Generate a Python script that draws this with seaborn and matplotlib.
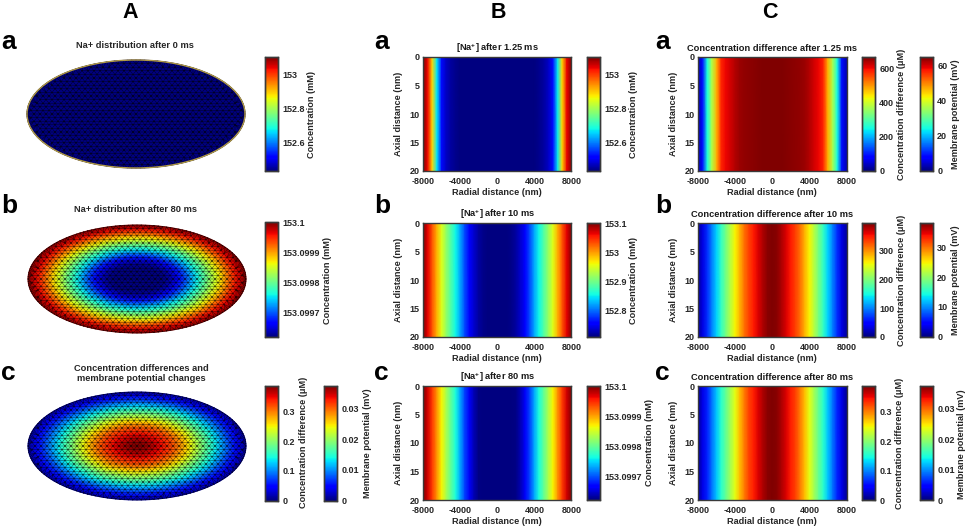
import numpy as np
import pandas as pd
import seaborn as sns
import matplotlib.pyplot as plt
from matplotlib.cm import ScalarMappable
from matplotlib.colors import Normalize
from matplotlib.patches import Ellipse
from matplotlib.tri import Triangulation

# Perfiles radiales (centro -> borde, cada 500 nm)
radial = [0, 500, 1000, 1500, 2000, 2500, 3000, 3500, 4000, 4500, 5000, 5500, 6000, 6500, 7000, 7500, 8000]
axial = [0, 20]

na_0ms = [152.43] * 17
na_125ms = [152.43, 152.43, 152.43, 152.43, 152.43, 152.43, 152.43, 152.43, 152.43, 152.44, 152.45, 152.47,
            152.52, 152.67, 152.89, 153.04, 153.106]
na_10ms = [152.71, 152.71, 152.71, 152.714, 152.722, 152.737, 152.757, 152.788, 152.824, 152.855, 152.886,
           152.918, 152.953, 152.992, 153.031, 153.067, 153.102]
na_80ms = [153.09961, 153.09961, 153.09961, 153.099614, 153.099622, 153.099637, 153.099661, 153.099692,
           153.099731, 153.099766, 153.099797, 153.099832, 153.099867, 153.099906, 153.099942, 153.099973, 153.1]
diff_125ms = [667, 667, 667, 664, 660, 657, 654, 650, 637, 620, 604, 580, 480, 374, 253, 93, 33]
diff_10ms = [394, 390, 378, 362, 347, 331, 311, 284, 256, 225, 193, 162, 130, 99, 67, 35, 12]
diff_80ms = [0.388, 0.384, 0.372, 0.357, 0.341, 0.326, 0.303, 0.275, 0.244, 0.213, 0.182, 0.155, 0.124, 0.093,
             0.062, 0.035, 0.008]

radial_ticks = [-8000, -4000, 0, 4000, 8000]
axial_ticks = [0, 5, 10, 15, 20]

W, H = 969, 527
text_color = '#262626'
frame_color = '#3a3a3a'

sns.set_style('white')
plt.rcParams['font.family'] = ['Liberation Sans', 'DejaVu Sans']
plt.rcParams['font.weight'] = 'bold'
plt.rcParams['axes.labelweight'] = 'bold'
plt.rcParams['axes.titleweight'] = 'bold'
plt.rcParams['mathtext.fontset'] = 'custom'
plt.rcParams['mathtext.rm'] = 'Liberation Sans:bold'
plt.rcParams['mathtext.default'] = 'rm'
plt.rcParams['text.color'] = text_color
plt.rcParams['axes.labelcolor'] = text_color
plt.rcParams['xtick.color'] = text_color
plt.rcParams['ytick.color'] = text_color
plt.rcParams['axes.titlecolor'] = '#1a1a1a'

fs_title = 6.65
fs_tick = 6.5
fs_label = 6.55

fig = plt.figure(figsize=(W / 100, H / 100), dpi=100)


def px_axes(x0, y0, x1, y1):
    return fig.add_axes([x0 / W, 1 - y1 / H, (x1 - x0) / W, (y1 - y0) / H])


def style_bar(cax, ticks, labels, label, label_x, label_y):
    cax.set_yticks(ticks, labels)
    cax.tick_params(axis='y', right=True, left=False, direction='in', length=2, width=0.8, pad=3,
                    labelsize=fs_tick, color='#202020')
    cax.minorticks_off()
    for s in cax.spines.values():
        s.set_visible(True)
        s.set_color(frame_color)
        s.set_linewidth(1.0)
    fig.text(label_x / W, 1 - label_y / H, label, rotation=90, ha='center', va='center', fontsize=fs_label)


def extra_bar(box, vmin, vmax, ticks, labels, label, label_x, label_y):
    cax = px_axes(*box)
    fig.colorbar(ScalarMappable(Normalize(vmin, vmax), 'jet'), cax=cax)
    style_bar(cax, ticks, labels, label, label_x, label_y)


def strip_panel(x0, y0, profile, vmin, vmax, title, bar_x, ticks, labels, label, label_x):
    ax = px_axes(x0, y0, x0 + 148.5, y0 + 114)
    cax = px_axes(bar_x, y0, bar_x + 13, y0 + 114)
    full = profile[::-1][:-1] + profile
    cols = [-r for r in radial[::-1][:-1]] + radial
    frame = pd.DataFrame([full, full], index=axial, columns=cols)
    sns.heatmap(frame, ax=ax, cbar_ax=cax, cmap='jet', vmin=vmin, vmax=vmax, shading='gouraud',
                xticklabels=False, yticklabels=False)
    ax.set_xlim(0, len(cols) - 1)
    ax.set_ylim(1, 0)
    ax.set_xticks([(t + 8000) / 500 for t in radial_ticks], [str(t) for t in radial_ticks])
    ax.set_yticks([t / 20 for t in axial_ticks], [str(t) for t in axial_ticks])
    ax.tick_params(top=True, bottom=True, left=True, right=True, direction='in', length=1.5, width=0.7,
                   labelsize=fs_tick, color='#202020')
    ax.tick_params(axis='x', pad=4)
    ax.tick_params(axis='y', pad=2.5)
    ax.set_xlabel('Radial distance (nm)', fontsize=fs_label, labelpad=1.5)
    ax.set_ylabel('Axial distance (nm)', fontsize=fs_label)
    ax.yaxis.set_label_coords(-20 / 148.5, 0.5)
    ax.set_title(title, fontsize=fs_title, pad=4)
    for s in ax.spines.values():
        s.set_visible(True)
        s.set_color(frame_color)
        s.set_linewidth(1.0)
    style_bar(cax, ticks, labels, label, label_x, y0 + 57)


def disc_panel(cx, cy, profile, vmin, vmax):
    ax = px_axes(cx - 110, cy - 55, cx + 110, cy + 55)
    nm_px = 16000 / 218
    a, b = 8000, 54 * nm_px
    ax.set_xlim(-110 * nm_px, 110 * nm_px)
    ax.set_ylim(-55 * nm_px, 55 * nm_px)
    ax.axis('off')
    # malla triangular regular dentro de la elipse, mas nodos en el borde
    xs, ys = [], []
    for i in range(-15, 16):
        x_row = (np.arange(-19, 20) + 0.5 * (i % 2)) * 6.0 * nm_px
        xs.append(x_row)
        ys.append(np.full(x_row.shape, i * 3.6 * nm_px))
    xs, ys = np.concatenate(xs), np.concatenate(ys)
    inside = np.hypot(xs / a, ys / b) < 0.97
    th = np.linspace(0, 2 * np.pi, 160, endpoint=False)
    xs = np.r_[xs[inside], a * np.cos(th)]
    ys = np.r_[ys[inside], b * np.sin(th)]
    tri = Triangulation(xs, ys)
    vals = np.interp(np.hypot(xs / a, ys / b) * 8000, radial, profile)
    ax.tripcolor(tri, vals, shading='gouraud', cmap='jet', vmin=vmin, vmax=vmax)
    ax.triplot(tri, color='black', lw=0.35, alpha=0.7)
    return ax, a, b


# Columna A
conc = 'Concentration (mM)'
diff = 'Concentration difference (\u03bcM)'
mem = 'Membrane potential (mV)'
ax_a, a_rx, a_ry = disc_panel(136, 114, na_0ms, 152.43, 153.106)
ax_a.add_patch(Ellipse((0, 0), 2 * a_rx, 2 * a_ry, fill=False, ec='#b09a45', lw=1.0))
extra_bar((265, 57, 278, 171), 152.43, 153.106, [152.6, 152.8, 153], ['152.6', '152.8', '153'], conc, 312, 114)
disc_panel(137, 279, na_80ms, 153.09962, 153.1)
extra_bar((265, 222.5, 278, 337), 153.09962, 153.1, [153.0997, 153.0998, 153.0999, 153.1],
          ['153.0997', '153.0998', '153.0999', '153.1'], conc, 328, 280)
disc_panel(137, 446, diff_80ms, 0, 0.388)
extra_bar((265, 386, 278, 500.5), 0, 0.388, [0, 0.1, 0.2, 0.3], ['0', '0.1', '0.2', '0.3'], diff, 303, 442)
extra_bar((324, 386, 337, 500.5), 0, 0.0374, [0, 0.01, 0.02, 0.03], ['0', '0.01', '0.02', '0.03'], mem, 367, 443)

fig.text(135 / W, 1 - 46 / H, 'Na+ distribution after 0 ms', ha='center', va='center', fontsize=fs_title)
fig.text(135 / W, 1 - 209 / H, 'Na+ distribution after 80 ms', ha='center', va='center', fontsize=fs_title)
fig.text(141 / W, 1 - 373.5 / H, 'Concentration differences and\nmembrane potential changes', ha='center',
         va='center', fontsize=fs_title, linespacing=1.15)

# Columna B
strip_panel(423, 57, na_125ms, 152.43, 153.106, r'[Na$^{+}$] after 1.25 ms', 587, [152.6, 152.8, 153],
            ['152.6', '152.8', '153'], conc, 634)
strip_panel(423, 223, na_10ms, 152.71, 153.102, r'[Na$^{+}$] after 10 ms', 587, [152.8, 152.9, 153, 153.1],
            ['152.8', '152.9', '153', '153.1'], conc, 634)
strip_panel(423, 386, na_80ms, 153.09962, 153.1, r'[Na$^{+}$] after 80 ms', 587,
            [153.0997, 153.0998, 153.0999, 153.1], ['153.0997', '153.0998', '153.0999', '153.1'], conc, 650)

# Columna C
strip_panel(698, 57, diff_125ms, 0, 667, 'Concentration difference after 1.25 ms', 862, [0, 200, 400, 600],
            ['0', '200', '400', '600'], diff, 902)
extra_bar((920, 57, 933, 171), 0, 65, [0, 20, 40, 60], ['0', '20', '40', '60'], mem, 955, 114)
strip_panel(698, 223, diff_10ms, 0, 394, 'Concentration difference after 10 ms', 862, [0, 100, 200, 300],
            ['0', '100', '200', '300'], diff, 902)
extra_bar((920, 223, 933, 337), 0, 38, [0, 10, 20, 30], ['0', '10', '20', '30'], mem, 955, 280)
strip_panel(698, 386, diff_80ms, 0, 0.388, 'Concentration difference after 80 ms', 862, [0, 0.1, 0.2, 0.3],
            ['0', '0.1', '0.2', '0.3'], diff, 899)
extra_bar((920, 386, 933, 500), 0, 0.0374, [0, 0.01, 0.02, 0.03], ['0', '0.01', '0.02', '0.03'], mem, 962, 444)

# Letras de columna y fila
for letter, x in zip('ABC', [130, 498, 770]):
    fig.text(x / W, 1 - 12 / H, letter, ha='center', va='center', fontsize=15.5, color='black')
for x in [1, 374, 655]:
    for letter, y in zip('abc', [49, 213, 380]):
        fig.text(x / W, 1 - y / H, letter, ha='left', va='baseline', fontsize=19, color='black')

fig.savefig('out.png', dpi=100)
